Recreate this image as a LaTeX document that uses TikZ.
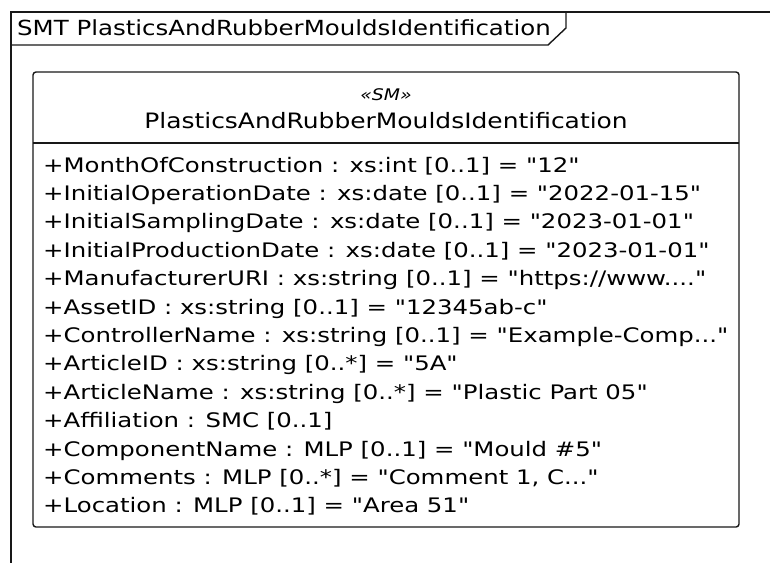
\documentclass[tikz,border=0pt]{standalone}
\usepackage{fontspec}
\newfontfamily\umlfont{DejaVu Sans}[FakeStretch=1.176]
\newfontfamily\attrfont{DejaVu Sans}[FakeStretch=1.22]
\usetikzlibrary{positioning}

\definecolor{umlline}{HTML}{181818}

\begin{document}
\begin{tikzpicture}[x=1pt, y=-1pt,
    frameline/.style={draw=umlline, line width=1.4pt},
    boxline/.style={draw=umlline, line width=1.4pt, rounded corners=3pt},
    attr/.style={anchor=base west, inner sep=0pt, font=\attrfont\fontsize{20}{24}\selectfont},
    heading/.style={anchor=base, inner sep=0pt, font=\umlfont\fontsize{21.2}{24}\selectfont}
]
    \useasboundingbox (0,0) rectangle (770,563);

    % Frame
    \draw[frameline] (770,12) -- (11,12) -- (11,563);
    \draw[frameline] (566,12) -- (566,28) -- (548,45) -- (11,45);
    \node[attr, font=\umlfont\fontsize{20.8}{24}\selectfont] (title) at (17,35) {SMT PlasticsAndRubberMouldsIdentification};

    % Class
    \draw[boxline] (33,72) rectangle (739,527);
    \draw[frameline] (33,143) -- (739,143);
    \node[heading, font=\umlfont\fontsize{16}{20}\selectfont\itshape] (stereo) at (386,100) {«SM»};
    \node[heading] (clsname) at (386,128) {PlasticsAndRubberMouldsIdentification};

    % Attributes
    \node[attr] (a1) at (43,172) {+MonthOfConstruction : xs:int [0..1] = "12"};
    \node[attr] (a2) at (43,200.4) {+InitialOperationDate : xs:date [0..1] = "2022-01-15"};
    \node[attr] (a3) at (43,228.8) {+InitialSamplingDate : xs:date [0..1] = "2023-01-01"};
    \node[attr] (a4) at (43,257.2) {+InitialProductionDate : xs:date [0..1] = "2023-01-01"};
    \node[attr] (a5) at (43,285.6) {+ManufacturerURI : xs:string [0..1] = "https://www...."};
    \node[attr] (a6) at (43,314) {+AssetID : xs:string [0..1] = "12345ab-c"};
    \node[attr] (a7) at (43,342.4) {+ControllerName : xs:string [0..1] = "Example-Comp..."};
    \node[attr] (a8) at (43,370.8) {+ArticleID : xs:string [0..*] = "5A"};
    \node[attr] (a9) at (43,399.2) {+ArticleName : xs:string [0..*] = "Plastic Part 05"};
    \node[attr] (a10) at (43,427.6) {+Affiliation : SMC [0..1]};
    \node[attr] (a11) at (43,456) {+ComponentName : MLP [0..1] = "Mould \#5"};
    \node[attr] (a12) at (43,484.4) {+Comments : MLP [0..*] = "Comment 1, C..."};
    \node[attr] (a13) at (43,512.8) {+Location : MLP [0..1] = "Area 51"};
\end{tikzpicture}
\end{document}
